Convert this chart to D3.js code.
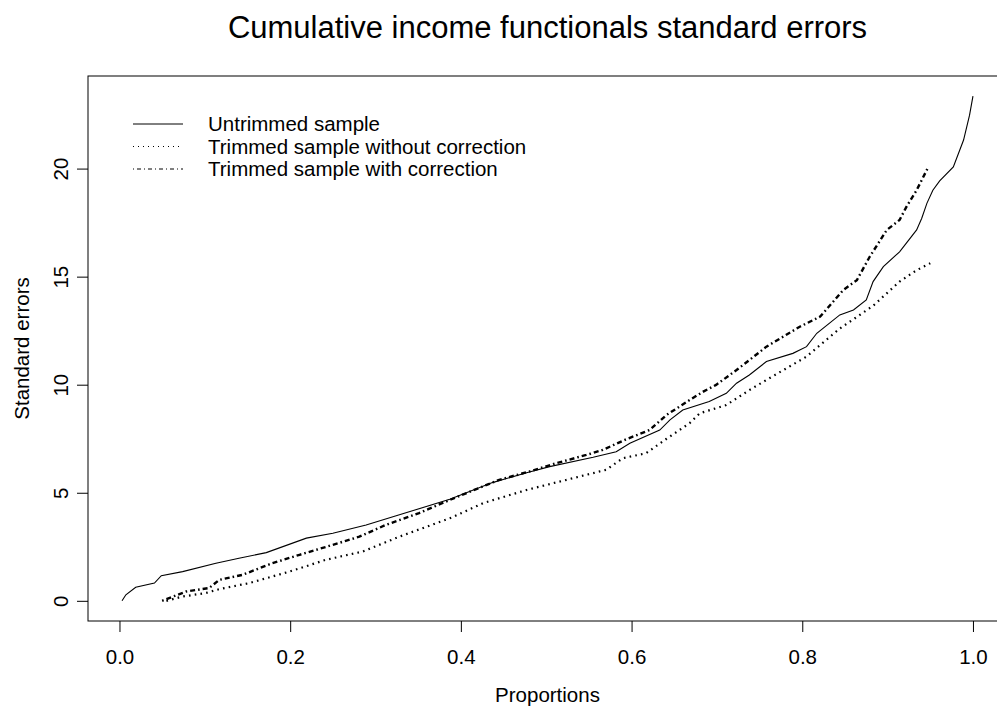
<!DOCTYPE html>
<html>
<head>
<meta charset="utf-8">
<script src="https://cdn.jsdelivr.net/npm/d3@7"></script>
<style>
  body { margin: 0; background: #fff; }
  text { font-family: "Liberation Sans", Arial, Helvetica, sans-serif; fill: #000; }
</style>
</head>
<body>
<svg id="chart" width="997" height="706"></svg>
<script>
// proportions (x) and standard errors (y)
const untrimmedP = [0.003, 0.0075, 0.019, 0.041, 0.049, 0.074, 0.113, 0.140, 0.172, 0.219, 0.250, 0.289, 0.328, 0.387,
  0.437, 0.477, 0.504, 0.555, 0.582, 0.598, 0.633, 0.645, 0.660, 0.691, 0.711, 0.723, 0.738, 0.758, 0.789, 0.805,
  0.817, 0.844, 0.860, 0.875, 0.883, 0.895, 0.914, 0.934, 0.940, 0.946, 0.953, 0.961, 0.977, 0.989, 0.996, 1.000];
const untrimmedSE = [0, 0.28, 0.63, 0.82, 1.16, 1.35, 1.74, 1.97, 2.23, 2.9, 3.13, 3.51, 3.98, 4.7,
  5.47, 5.93, 6.21, 6.64, 6.9, 7.29, 7.9, 8.37, 8.83, 9.22, 9.6, 10.07, 10.45, 11.07, 11.45, 11.76,
  12.38, 13.23, 13.46, 13.92, 14.77, 15.46, 16.15, 17.16, 17.7, 18.39, 19.0, 19.43, 20.08, 21.32, 22.47, 23.35];

const withoutP = [0.055, 0.074, 0.101, 0.117, 0.152, 0.199, 0.242, 0.285, 0.328, 0.389, 0.426, 0.477, 0.524, 0.570,
  0.590, 0.617, 0.641, 0.668, 0.680, 0.711, 0.738, 0.758, 0.805, 0.844, 0.883, 0.914, 0.934, 0.950];
const withoutSE = [0, 0.2, 0.36, 0.54, 0.82, 1.35, 1.9, 2.28, 2.97, 3.85, 4.52, 5.13, 5.6, 6.06,
  6.6, 6.83, 7.5, 8.22, 8.68, 9.06, 9.75, 10.22, 11.3, 12.6, 13.65, 14.77, 15.3, 15.62];

const withP = [0.050, 0.078, 0.105, 0.117, 0.144, 0.179, 0.211, 0.250, 0.281, 0.312, 0.351, 0.389, 0.445, 0.480,
  0.512, 0.547, 0.566, 0.594, 0.621, 0.641, 0.668, 0.684, 0.699, 0.723, 0.738, 0.758, 0.797, 0.821, 0.848,
  0.864, 0.879, 0.899, 0.914, 0.922, 0.934, 0.948];
const withSE = [0, 0.43, 0.59, 0.97, 1.2, 1.74, 2.13, 2.59, 2.97, 3.51, 4.06, 4.7, 5.6, 5.98,
  6.37, 6.75, 6.98, 7.48, 7.9, 8.6, 9.29, 9.68, 9.99, 10.68, 11.14, 11.76, 12.68, 13.15, 14.38,
  14.84, 15.92, 17.16, 17.62, 18.23, 19.0, 20.1];

const xTicks = [0, 0.2, 0.4, 0.6, 0.8, 1.0];
const yTicks = [0, 5, 10, 15, 20];
const legendLabels = ["Untrimmed sample", "Trimmed sample without correction", "Trimmed sample with correction"];

const svg = d3.select("#chart");
const plotL = 88, plotR = 1007, plotT = 76, plotB = 621;
const fs = 20.5;

// R style 4% padding around data range
const xExt = [0.003, 1.0], yExt = [0, 23.35];
const xPad = (xExt[1] - xExt[0]) * 0.04, yPad = (yExt[1] - yExt[0]) * 0.04;
const x = d3.scaleLinear().domain([xExt[0] - xPad, xExt[1] + xPad]).range([plotL, plotR]);
const y = d3.scaleLinear().domain([yExt[0] - yPad, yExt[1] + yPad]).range([plotB, plotT]);

svg.append("rect")
  .attr("x", plotL).attr("y", plotT)
  .attr("width", plotR - plotL).attr("height", plotB - plotT)
  .attr("fill", "none").attr("stroke", "#000").attr("stroke-width", 1);

const xAxis = svg.append("g")
  .attr("transform", `translate(0,${plotB})`)
  .call(d3.axisBottom(x).tickValues(xTicks).tickFormat(d3.format(".1f")).tickSize(11).tickPadding(17));
const yAxis = svg.append("g")
  .attr("transform", `translate(${plotL},0)`)
  .call(d3.axisLeft(y).tickValues(yTicks).tickSize(11).tickPadding(8));
[xAxis, yAxis].forEach(g => {
  g.select(".domain").remove();
  g.selectAll("line").attr("stroke", "#000");
  g.selectAll("text").attr("font-size", fs).attr("font-family", null);
});
yAxis.selectAll(".tick text")
  .attr("text-anchor", "middle")
  .attr("x", null)
  .attr("transform", "translate(-27,0) rotate(-90)")
  .attr("dy", "0.35em");

svg.append("text")
  .attr("x", (plotL + plotR) / 2).attr("y", 38)
  .attr("text-anchor", "middle").attr("font-size", 31)
  .text("Cumulative income functionals standard errors");
svg.append("text")
  .attr("x", (plotL + plotR) / 2).attr("y", 702)
  .attr("text-anchor", "middle").attr("font-size", fs)
  .text("Proportions");
svg.append("text")
  .attr("transform", `translate(29,${(plotT + plotB) / 2}) rotate(-90)`)
  .attr("text-anchor", "middle").attr("font-size", fs)
  .text("Standard errors");

const line = d3.line().x(d => x(d[0])).y(d => y(d[1]));
const series = [
  { p: untrimmedP, se: untrimmedSE, dash: null, width: 1.1 },
  { p: withoutP, se: withoutSE, dash: "1.6,4.2", width: 2.2 },
  { p: withP, se: withSE, dash: "1.6,3,5,3", width: 2.4 }
];
series.forEach(s => {
  svg.append("path")
    .datum(d3.zip(s.p, s.se))
    .attr("d", line)
    .attr("fill", "none")
    .attr("stroke", "#000")
    .attr("stroke-width", s.width)
    .attr("stroke-dasharray", s.dash);
});

const legendDash = [null, "1,4", "1,3,4,3"];
const legend = svg.append("g");
legendLabels.forEach((lab, i) => {
  const ly = 124 + i * 22.5;
  legend.append("line")
    .attr("x1", 133).attr("x2", 183).attr("y1", ly).attr("y2", ly)
    .attr("stroke", "#000").attr("stroke-width", 1)
    .attr("stroke-dasharray", legendDash[i]);
  legend.append("text")
    .attr("x", 208).attr("y", ly).attr("dy", "0.35em")
    .attr("font-size", fs)
    .text(lab);
});
</script>
</body>
</html>
